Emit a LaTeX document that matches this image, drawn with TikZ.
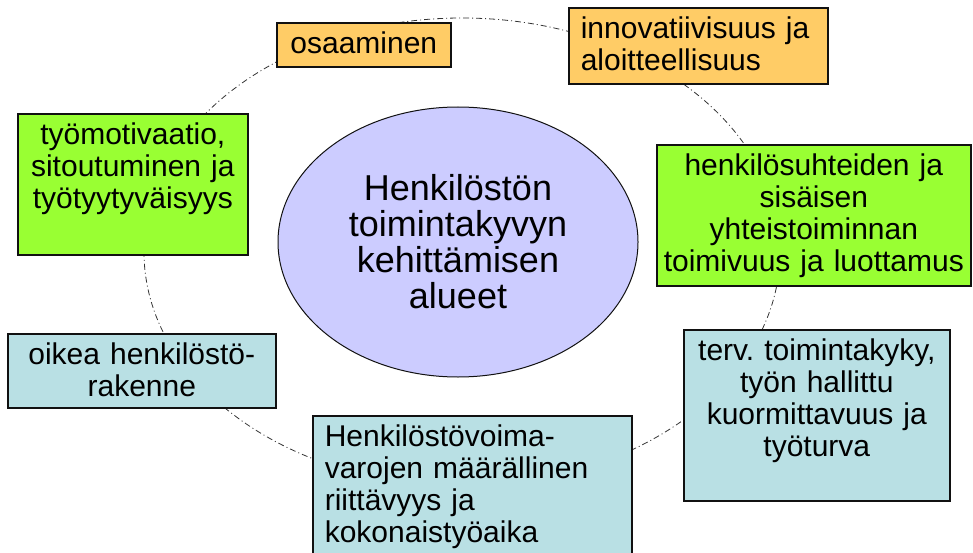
\documentclass[tikz,border=0pt]{standalone}
\usepackage{fontspec}
\setmainfont{Liberation Sans}
\frenchspacing
\usetikzlibrary{shapes.geometric}
\definecolor{ink}{HTML}{111111}
\definecolor{paperamber}{HTML}{FFCC66}
\definecolor{papergreen}{HTML}{99FF33}
\definecolor{paperblue}{HTML}{B9E0E4}
\definecolor{paperlilac}{HTML}{CCCCFF}
\definecolor{muted}{HTML}{333333}
\tikzset{box/.style={draw=ink,line width=1.6pt,anchor=north west,inner xsep=6pt,inner ysep=7pt,text height=24pt,font=\fontsize{30pt}{32pt}\selectfont,align=center},warm/.style={box,fill=paperamber},good/.style={box,fill=papergreen},calm/.style={box,fill=paperblue},lefttext/.style={align=left,inner xsep=12pt},hub/.style={ellipse,draw=ink,line width=1pt,fill=paperlilac,inner sep=0pt,minimum width=360pt,minimum height=270pt,align=center,font=\fontsize{36pt}{36pt}\selectfont},ring/.style={draw=muted,line width=.8pt,dash pattern=on 6pt off 3pt on 1pt off 3pt}}
\begin{document}
\begin{tikzpicture}[x=1pt,y=-1pt]
\clip (0,0) rectangle (973,553);
\coordinate (ringc) at (462,252);
\draw[ring] (ringc) ellipse [x radius=318pt,y radius=234pt];
\node[hub] (core) at (458,242) {Henkilöstön\\toimintakyvyn\\kehittämisen\\alueet};
\node[warm,text width=162pt,text depth=6pt] (skill) at (276,22) {osaaminen};
\node[warm,lefttext,text width=235pt,text depth=38pt] (innov) at (568,7) {innovatiivisuus ja\\aloitteellisuus};
\node[good,text width=218pt,text depth=103pt] (motiv) at (17,113) {työmotivaatio,\\sitoutuminen ja\\työtyytyväisyys};
\node[good,text width=302pt,text depth=103pt] (relations) at (656,144) {henkilösuhteiden ja\\sisäisen\\yhteistoiminnan\\toimivuus ja luottamus};
\node[calm,text width=256pt,text depth=36pt] (structure) at (7,333) {oikea henkilöstö-\\rakenne};
\node[calm,lefttext,text width=295pt,text depth=112pt] (resources) at (312,415) {Henkilöstövoima-\\varojen määrällinen\\riittävyys ja\\kokonaistyöaika};
\node[calm,text width=254pt,text depth=133pt] (health) at (683,329) {terv. toimintakyky,\\työn hallittu\\kuormittavuus ja\\työturva};
\end{tikzpicture}
\end{document}
